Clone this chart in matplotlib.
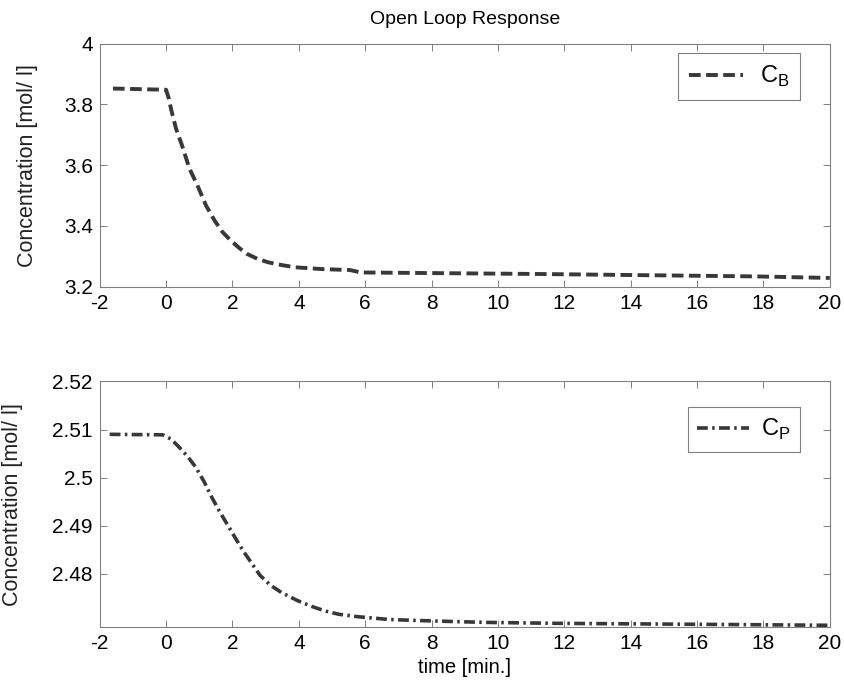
import numpy as np
import matplotlib.pyplot as plt

plt.rcParams['axes.unicode_minus'] = False
plt.rcParams['font.family'] = ['Liberation Sans', 'DejaVu Sans']

# concentration of B
t_b = [-1.6, 0.0, 0.08, 0.16, 0.3, 0.48, 0.7, 0.97, 1.2, 1.46, 1.7, 1.95, 2.2, 2.44, 2.75, 3.09, 3.5, 3.9, 4.3, 4.72,
       5.54, 5.87, 8.0, 11.25, 14.5, 17.8, 20.0]
c_b = [3.852, 3.848, 3.82, 3.78, 3.72, 3.665, 3.59, 3.527, 3.468, 3.418, 3.38, 3.352, 3.328, 3.308, 3.292, 3.28, 3.271,
       3.264, 3.261, 3.258, 3.255, 3.247, 3.245, 3.242, 3.238, 3.234, 3.229]

# concentration of P
t_p = [-1.7, -0.1, 0.15, 0.4, 0.65, 0.9, 1.15, 1.37, 1.6, 1.85, 2.1, 2.34, 2.6, 2.83, 3.15, 3.48, 3.97, 4.4, 4.78,
       5.2, 5.76, 6.73, 8.03, 9.66, 11.9, 16.2, 20.0]
c_p = [2.5090, 2.5089, 2.5080, 2.5063, 2.5044, 2.5021, 2.4991, 2.4960, 2.4931, 2.4902, 2.4873, 2.4846, 2.4820, 2.4797,
       2.4776, 2.4761, 2.4744, 2.4732, 2.4723, 2.4716, 2.4711, 2.4705, 2.4702, 2.4699, 2.4697, 2.4695, 2.4693]

x_ticks = list(range(-2, 21, 2))
yb_ticks = [3.2, 3.4, 3.6, 3.8, 4.0]
yb_labels = ['3.2', '3.4', '3.6', '3.8', '4']
yp_ticks = [2.48, 2.49, 2.50, 2.51, 2.52]
yp_labels = ['2.48', '2.49', '2.5', '2.51', '2.52']

line_col = '#383838'
edge_col = '#808080'

fig = plt.figure(figsize=(8.45, 6.91), dpi=100)
ax1 = fig.add_axes([0.118, 0.585, 0.864, 0.352])
ax2 = fig.add_axes([0.118, 0.093, 0.864, 0.355])

ax1.plot(t_b, c_b, linestyle=(0, (3.0, 1.4)), color=line_col, lw=2.8, label='C$_\\mathregular{B}$')
ax2.plot(t_p, c_p, linestyle=(0, (3.0, 1.2, 0.7, 1.2)), color=line_col, lw=2.6, label='C$_\\mathregular{P}$')

ax1.set_ylim(3.2, 4.0)
ax1.set_yticks(yb_ticks)
ax1.set_yticklabels(yb_labels)
ax2.set_ylim(2.469, 2.52)
ax2.set_yticks(yp_ticks)
ax2.set_yticklabels(yp_labels)

for ax in (ax1, ax2):
    ax.set_xlim(-2, 20)
    ax.set_xticks(x_ticks)
    ax.tick_params(direction='in', top=True, right=True, length=5, width=0.7,
                   color=edge_col, labelsize=15, pad=5)
    for s in ax.spines.values():
        s.set_color(edge_col)
        s.set_linewidth(0.8)
    ax.set_ylabel('Concentration [mol/ l]', fontsize=15.5, color='#222222')

leg1 = ax1.legend(loc='upper right', bbox_to_anchor=(0.959, 0.96), borderaxespad=0, fontsize=17,
                  handlelength=2.3, handletextpad=0.7, fancybox=False, framealpha=1,
                  edgecolor=edge_col, borderpad=0.45)
leg2 = ax2.legend(loc='upper right', bbox_to_anchor=(0.959, 0.894), borderaxespad=0, fontsize=17,
                  handlelength=2.2, handletextpad=0.5, fancybox=False, framealpha=1,
                  edgecolor=edge_col, borderpad=0.4)
for leg in (leg1, leg2):
    leg.get_frame().set_linewidth(0.8)

ax1.yaxis.set_label_coords(-0.085, 0.5)
ax2.yaxis.set_label_coords(-0.105, 0.5)
ax1.set_title('Open Loop Response', fontsize=14, pad=14)
ax2.set_xlabel('time [min.]', fontsize=14.5, labelpad=4)

plt.savefig('out.png', dpi=100)
